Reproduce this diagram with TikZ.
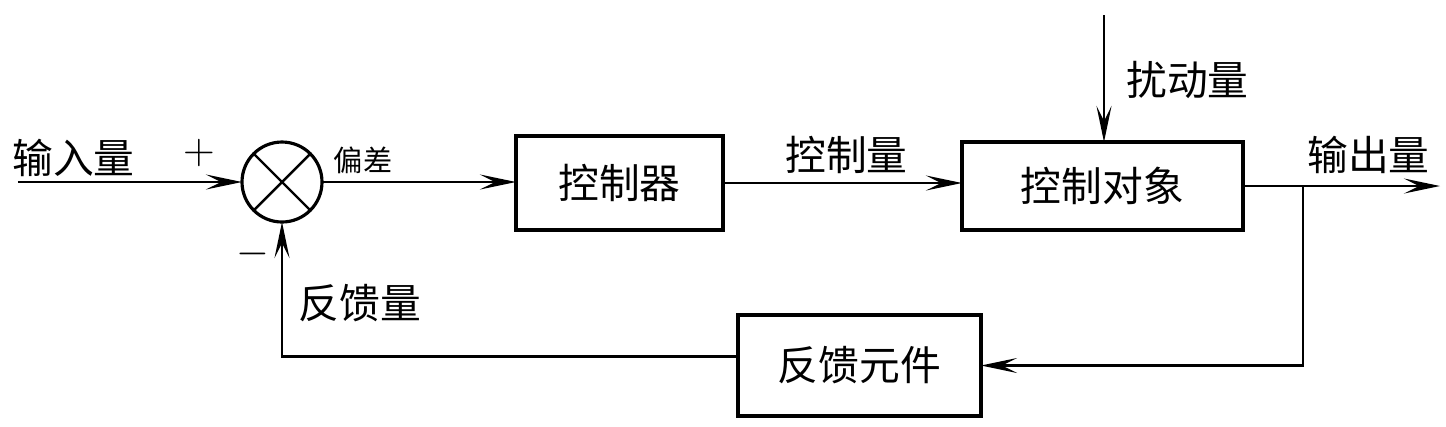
\documentclass[tikz,border=0pt]{standalone}
\usepackage{fontspec}
\newfontfamily\cjk{Noto Sans CJK SC}
\usetikzlibrary{arrows.meta,calc}

\tikzset{
	>={Stealth[length=3.6mm,width=1.5mm,inset=1.5mm]},
	blockbox/.style={draw,line width=0.9pt,outer sep=0pt,inner sep=0pt},
	sigline/.style={line width=0.7pt},
	lbl/.style={inner sep=0pt,outer sep=0pt}
}

\begin{document}
\begin{tikzpicture}[font=\cjk\fontsize{11.6}{14}\selectfont]
	\useasboundingbox (0,0) rectangle (14.46,4.26);
	
	% summing junction
	\node[draw,circle,line width=0.9pt,outer sep=0pt] (sum) at (2.82,2.44) [minimum size=0.8cm] {};
	\draw[line width=0.7pt] (sum.45) -- (sum.225) (sum.135) -- (sum.-45);
	
	\node[blockbox] (ctrl) at (6.195,2.43) [minimum width=2.07cm, minimum height=0.94cm] {控制器};
	\node[blockbox] (plant) at (11.025,2.40) [minimum width=2.81cm, minimum height=0.88cm] {控制对象};
	\node[blockbox] (fb) at (8.595,0.605) [minimum width=2.43cm, minimum height=1.01cm] {反馈元件};
	
	\coordinate (in) at (0.18,2.44);
	\coordinate (out) at (14.40,2.40);
	\coordinate (br) at (13.03,2.40);
	\coordinate (dist) at (11.04,4.11);
	
	% signals
	\draw[sigline,->] (in) -- (sum.west);
	\draw[sigline,->] (sum.east) -- (sum.east -| ctrl.west);
	\draw[sigline,->] (ctrl.east) -- (ctrl.east -| plant.west);
	\draw[sigline,->] (dist) -- (dist |- plant.north);
	\draw[sigline,->] (plant.east) -- (out);
	\draw[sigline,->] (br) |- (fb.east);
	\draw[sigline,->] ([yshift=0.9mm]fb.west) -| (sum.south);
	
	% labels
	\node[lbl] (inlbl) at (0.735,2.68) {输入量};
	\node[lbl] (plus) at (1.99,2.73) {\fontsize{12}{12}\selectfont$+$};
	\node[lbl] (minus) at (2.53,1.72) {\fontsize{12}{12}\selectfont$-$};
	\node[lbl] (errlbl) at (3.63,2.66) {\fontsize{8.3}{10}\selectfont 偏差};
	\node[lbl] (ulbl) at (8.465,2.71) {控制量};
	\node[lbl] (dlbl) at (11.875,3.46) {扰动量};
	\node[lbl] (outlbl) at (13.685,2.71) {输出量};
	\node[lbl] (fblbl) at (3.60,1.23) {反馈量};
\end{tikzpicture}
\end{document}
